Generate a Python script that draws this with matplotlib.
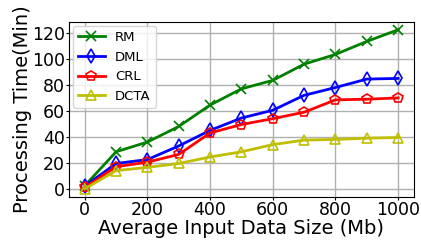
import matplotlib
matplotlib.use("Agg")
import matplotlib.pyplot as plt

# 数据
sizes = [0, 100, 200, 300, 400, 500, 600, 700, 800, 900, 1000]
rm = [2.3, 28.5, 36, 48, 64.5, 77, 83.5, 96, 103.5, 113.5, 122.5]
dml = [2, 19.5, 22.5, 33, 45, 54.5, 60.5, 72, 78, 84.5, 85]
crl = [1, 17, 20.5, 26.5, 43, 49.5, 54, 59, 68.5, 69, 70]
dcta = [0, 14, 16.5, 19.5, 24.5, 28.5, 34, 37.5, 38, 39, 39.5]

series = [
    ("RM", rm, "g", "x"),
    ("DML", dml, "b", "d"),
    ("CRL", crl, "r", "p"),
    ("DCTA", dcta, "y", "^"),
]

fig = plt.figure(figsize=(4.21, 2.42), dpi=100, facecolor="w")
ax = fig.add_axes([0.164, 0.187, 0.819, 0.723])
for name, vals, c, m in series:
    ax.plot(sizes, vals, color=c, marker=m, ms=7, mfc="none", mew=1.2, lw=2, label=name)

ax.grid(True, color="#b0b0b0", lw=1)
ax.set_xticks(range(0, 1001, 200))
ax.set_yticks(range(0, 121, 20))
ax.tick_params(labelsize=12.5, length=2, pad=1)
ax.set_xlabel("Average Input Data Size (Mb)", fontsize=14, labelpad=0)
ax.set_ylabel("Processing Time(Min)", fontsize=14, labelpad=0)
ax.legend(loc="upper left", fontsize=9.5, borderaxespad=0.3)
fig.savefig("out.png", dpi=100)
